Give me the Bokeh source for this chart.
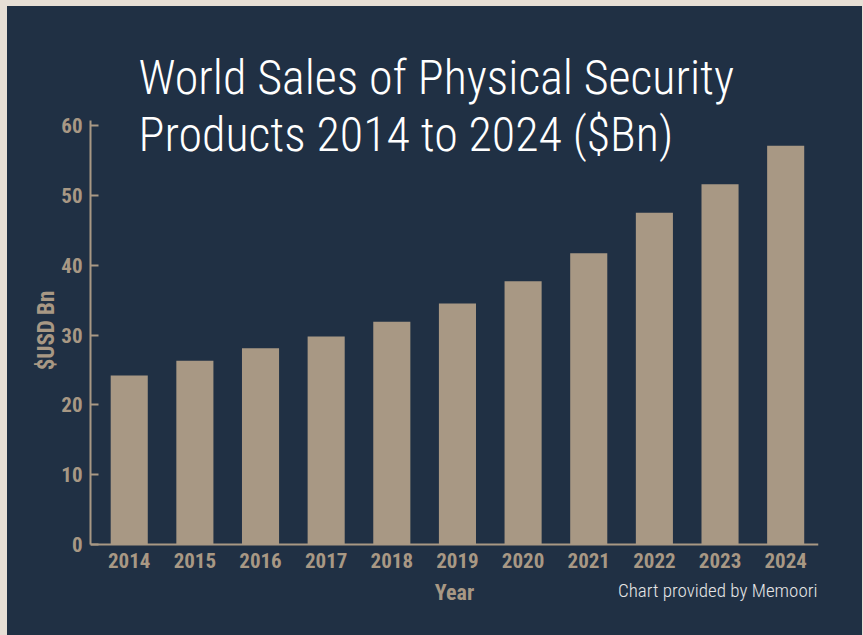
from bokeh.plotting import figure
from bokeh.models import Range1d, FixedTicker, Label, ColumnDataSource
from bokeh.layouts import column
from bokeh.embed import file_html
from bokeh.resources import INLINE

years = ["2014", "2015", "2016", "2017", "2018", "2019", "2020", "2021", "2022", "2023", "2024"]
sales = [24.2, 26.3, 28.1, 29.8, 31.9, 34.5, 37.7, 41.7, 47.5, 51.6, 57.1]
y_ticks = [0, 10, 20, 30, 40, 50, 60]

NAVY = "#203044"
BEIGE = "#a89884"
OUTER = "#e7dfd5"
BOLD_FONT = "Roboto Condensed, Roboto, sans-serif"
LIGHT_FONT = "Roboto Condensed Light, Roboto Condensed, sans-serif"

xs = list(range(len(years)))
src = ColumnDataSource(dict(x=xs, top=sales, year=years))

p = figure(width=855, height=629, output_backend="svg", toolbar_location=None,
           x_range=Range1d(-0.59, len(years) - 0.5), y_range=Range1d(-13.03, 74.32),
           background_fill_color=NAVY, border_fill_color=NAVY,
           min_border_left=83, min_border_right=44, min_border_top=19, min_border_bottom=0,
           margin=(6, 1, 0, 7), styles={"background-color": NAVY})
p.outline_line_color = None

p.vbar(x="x", top="top", width=0.565, source=src, fill_color=BEIGE, line_color=None)

p.xgrid.visible = False
p.ygrid.visible = False

# x axis, drawn at y = 0
xa = p.xaxis[0]
xa.fixed_location = 0
xa.ticker = FixedTicker(ticks=xs)
xa.major_label_overrides = {i: y for i, y in enumerate(years)}
xa.major_tick_line_color = None
xa.major_tick_in = 0
xa.major_tick_out = 0
xa.minor_tick_line_color = None
xa.axis_line_color = BEIGE
xa.axis_line_width = 2
xa.major_label_text_color = BEIGE
xa.major_label_text_font = BOLD_FONT
xa.major_label_text_font_style = "bold"
xa.major_label_text_font_size = "21px"
xa.major_label_standoff = 8
xa.axis_label = "Year"
xa.axis_label_text_color = BEIGE
xa.axis_label_text_font = BOLD_FONT
xa.axis_label_text_font_style = "bold"
xa.axis_label_text_font_size = "22px"
xa.axis_label_standoff = 9

# y axis
ya = p.yaxis[0]
ya.ticker = FixedTicker(ticks=y_ticks)
ya.bounds = (0, 60.7)
ya.major_tick_in = 8
ya.major_tick_out = 0
ya.major_tick_line_color = BEIGE
ya.major_tick_line_width = 2
ya.minor_tick_line_color = None
ya.axis_line_color = BEIGE
ya.axis_line_width = 2
ya.major_label_text_color = BEIGE
ya.major_label_text_font = BOLD_FONT
ya.major_label_text_font_style = "bold"
ya.major_label_text_font_size = "21px"
ya.major_label_standoff = 8
ya.axis_label = "$USD Bn"
ya.axis_label_text_color = BEIGE
ya.axis_label_text_font = BOLD_FONT
ya.axis_label_text_font_style = "bold"
ya.axis_label_text_font_size = "23px"
ya.axis_label_standoff = -2

# title lines (inside the extended frame)
for txt, yy in [("World Sales of Physical Security", 71), ("Products 2014 to 2024 ($Bn)", 128)]:
    p.add_layout(Label(x=131, y=yy, x_units="canvas", y_units="canvas", text=txt,
                       text_color="white", text_font=LIGHT_FONT, text_font_size="48px",
                       text_baseline="alphabetic"))

p.add_layout(Label(x=810, y=584, x_units="canvas", y_units="canvas",
                   text="Chart provided by Memoori", text_align="right",
                   text_color="#e6e6e6", text_font=LIGHT_FONT, text_font_size="19px",
                   text_baseline="alphabetic"))

layout = column(p, width=863, height=635, styles={"background-color": OUTER})

open("out.html", "w").write(file_html(layout, INLINE))
